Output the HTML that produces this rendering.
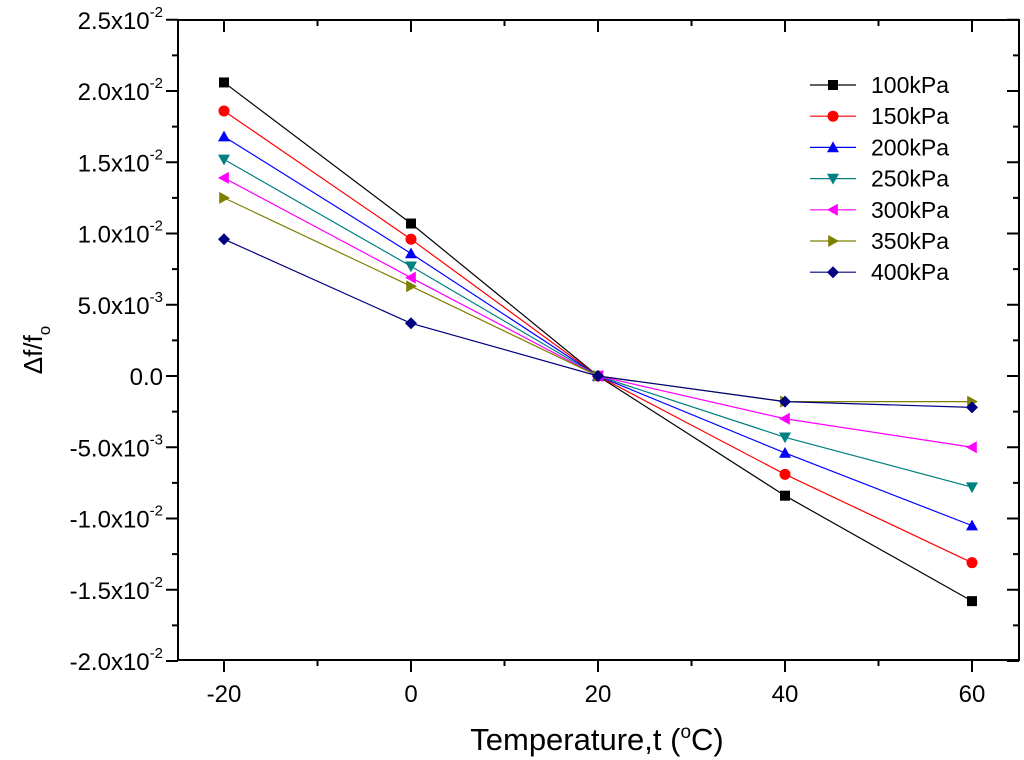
<!DOCTYPE html>
<html><head><meta charset="utf-8"><style>
body{margin:0;background:#fff;}
svg{display:block;font-family:"Liberation Sans",Arial,sans-serif;}
</style></head><body>
<svg id="chart" width="1024" height="760">
<g id="axes"></g><g id="series"></g><g id="legend"></g>
<text x="597" y="750" font-size="31" text-anchor="middle">Temperature,t (<tspan dy="-12" font-size="19">o</tspan><tspan dy="12">C)</tspan></text>
<text transform="translate(42,350) rotate(-90)" font-size="26" text-anchor="middle">Δf/f<tspan dy="8" font-size="17">o</tspan></text>
</svg>
<script>
const temps=[-20,0,20,40,60];
const seriesNames=["100kPa","150kPa","200kPa","250kPa","300kPa","350kPa","400kPa"];
const s100=[2.06,1.07,0,-0.84,-1.58];
const s150=[1.86,0.96,0,-0.69,-1.31];
const s200=[1.68,0.86,0,-0.54,-1.05];
const s250=[1.52,0.77,0,-0.43,-0.78];
const s300=[1.39,0.69,0,-0.30,-0.50];
const s350=[1.25,0.63,0,-0.18,-0.18];
const s400=[0.96,0.37,0,-0.18,-0.22];
const xTicks=[-20,0,20,40,60];
const yTicks=[-2.0,-1.5,-1.0,-0.5,0,0.5,1.0,1.5,2.0,2.5];
const yTickLabels=["-2.0x10","-1.5x10","-1.0x10","-5.0x10","0.0","5.0x10","1.0x10","1.5x10","2.0x10","2.5x10"];
const yTickExp=["-2","-2","-2","-3","","-3","-2","-2","-2","-2"];
const allSeries=[s100,s150,s200,s250,s300,s350,s400];
const colors=["#000","#ff0000","#0000ff","#008080","#ff00ff","#808000","#000080"];
const markers=["square","circle","up","down","left","right","diamond"];
const L=178,R=1019,T=20,B=660;
const X=v=>224+(v+20)*(972-224)/80;
const Y=v=>376-v*(376-91)/2.0;
const NS="http://www.w3.org/2000/svg";
function mk(t,a,p){const e=document.createElementNS(NS,t);for(const k in a)e.setAttribute(k,a[k]);p.appendChild(e);return e;}
const ax=document.getElementById('axes');
const fr=mk('rect',{x:L,y:T,width:R-L,height:B-T,fill:'none',stroke:'#000','stroke-width':2},ax);


for(let v=-20;v<=60;v+=10){const maj=v%20===0;const len=maj?12:6;
mk('line',{x1:X(v),x2:X(v),y1:B,y2:B+len,stroke:'#000','stroke-width':2},ax);
mk('line',{x1:X(v),x2:X(v),y1:T,y2:T+len,stroke:'#000','stroke-width':2},ax);}
xTicks.forEach(v=>{const t=mk('text',{x:X(v),y:B+42,'font-size':24,'text-anchor':'middle'},ax);t.textContent=v;

});
for(let i=0;i<=36;i++){const v=-2.0+i*0.125;if(Math.abs(v*4-Math.round(v*4))>1e-6)continue;const maj=Math.abs(v*2-Math.round(v*2))<1e-6;const len=maj?12:6;
mk('line',{x1:L-len,x2:L,y1:Y(v),y2:Y(v),stroke:'#000','stroke-width':2},ax);
mk('line',{x1:R-len,x2:R,y1:Y(v),y2:Y(v),stroke:'#000','stroke-width':2},ax);}
yTicks.forEach((v,i)=>{const t=mk('text',{x:yTickExp[i]?163:163,y:Y(v)+9,'font-size':24,'text-anchor':'end'},ax);t.textContent=yTickLabels[i];
if(yTickExp[i]){const s=mk('tspan',{dy:-12,'font-size':15},t);s.textContent=yTickExp[i];}

});
function marker(type,x,y,c,p){const r=5;let e;
if(type==='square')e=mk('rect',{x:x-r,y:y-r,width:2*r,height:2*r,fill:c},p);
else if(type==='circle')e=mk('circle',{cx:x,cy:y,r:r+0.5,fill:c},p);
else{let pts;const a=6;
if(type==='up')pts=[[x,y-a],[x-a,y+a*0.8],[x+a,y+a*0.8]];
if(type==='down')pts=[[x,y+a],[x-a,y-a*0.8],[x+a,y-a*0.8]];
if(type==='left')pts=[[x-a,y],[x+a*0.8,y-a],[x+a*0.8,y+a]];
if(type==='right')pts=[[x+a,y],[x-a*0.8,y-a],[x-a*0.8,y+a]];
if(type==='diamond')pts=[[x,y-a],[x+a,y],[x,y+a],[x-a,y]];
e=mk('polygon',{points:pts.map(q=>q.join(',')).join(' '),fill:c},p);}
return e;}
const sg=document.getElementById('series');
allSeries.forEach((d,i)=>{const g=mk('g',{},sg);


mk('polyline',{points:d.map((v,j)=>X(temps[j])+','+Y(v)).join(' '),fill:'none',stroke:colors[i],'stroke-width':1.2},g);
d.forEach((v,j)=>{const m=marker(markers[i],X(temps[j]),Y(v),colors[i],g);

});});
const lg=document.getElementById('legend');
seriesNames.forEach((n,i)=>{const y=85+i*31.2;const g=mk('g',{},lg);


mk('line',{x1:810,x2:856,y1:y,y2:y,stroke:colors[i],'stroke-width':1.2},g);
marker(markers[i],833,y,colors[i],g);
const t=mk('text',{x:871,y:y+8,'font-size':23},g);t.textContent=n;});
</script>
</body></html>
